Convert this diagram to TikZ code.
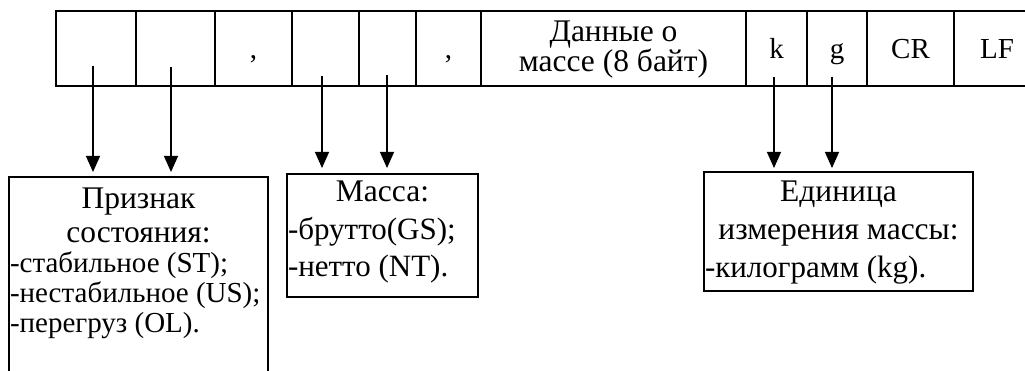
\documentclass[tikz,border=0pt]{standalone}
\usepackage{fontspec}
\setmainfont{Liberation Serif}
\usepackage{tikz}
\usetikzlibrary{positioning,arrows.meta}
\setlength\parindent{0pt}

\newcommand\titlefont[1]{\fontsize{31.5}{#1}\selectfont}
\newcommand\itemfont[2]{\fontsize{#1}{#2}\selectfont}
\newcommand\natspace{\spaceskip=0pt\xspaceskip=0pt\relax}

\tikzset{
  cell/.style={draw, line width=1.3pt, minimum height=75pt, inner sep=0pt, outer sep=0pt,
    font=\fontsize{29}{30}\selectfont, text height=20pt, text depth=0pt},
  datacell/.style={draw, line width=1.3pt, minimum height=75pt, inner sep=0pt, outer sep=0pt,
    font=\fontsize{31.5}{30}\selectfont, align=center, text height=54pt, text depth=7pt},
  infobox/.style={draw, line width=1.5pt, inner xsep=1pt, outer sep=0pt, anchor=north west, text height=21pt},
  ptr/.style={line width=1.2pt, -{Triangle[width=14pt,length=16pt]}}
}

\begin{document}
\begin{tikzpicture}[x=1pt,y=-1pt]
        \useasboundingbox (0,0) rectangle (1025,371);
        \clip (0,0) rectangle (1025,371);
        % message frame
        \node[cell, minimum width=80pt, anchor=north west] (sgnA) at (56,11) {};
        \node[cell, minimum width=79pt, right=0pt of sgnA] (sgnB) {};
        \node[cell, minimum width=77pt, right=0pt of sgnB] (commaA) {,};
        \node[cell, minimum width=67pt, right=0pt of commaA] (msA) {};
        \node[cell, minimum width=57pt, right=0pt of msA] (msB) {};
        \node[cell, minimum width=65pt, right=0pt of msB] (commaB) {,};
        \node[datacell, minimum width=265pt, right=0pt of commaB] (data) {\natspace Данные о\\\natspace массе (8 байт)};
        \node[cell, minimum width=61pt, right=0pt of data] (unitk) {k};
        \node[cell, minimum width=60pt, right=0pt of unitk] (unitg) {g};
        \node[cell, minimum width=87pt, right=0pt of unitg] (cr) {CR};
        \node[cell, minimum width=86pt, right=0pt of cr] (lf) {LF};
        % description boxes
        \node[infobox, text width=257pt, inner ysep=11pt, text depth=250pt] (state) at (9,177)
          {\natspace\titlefont{34}\centering Признак\\состояния:\par
           \itemfont{29}{30}\raggedright\mbox{-стабильное (ST);}\\\mbox{-нестабильное (US);}\\\mbox{-перегруз (OL).}\par};
        \node[infobox, text width=189pt, inner ysep=7pt, text depth=88pt] (mass) at (287,174)
          {\natspace\titlefont{38}\centering Масса:\par
           \itemfont{31}{37.5}\raggedright\mbox{-брутто(GS);}\\\mbox{-нетто (NT).}\par};
        \node[infobox, text width=267pt, inner ysep=9pt, text depth=80pt] (unit) at (704,172)
          {\natspace\titlefont{38}\centering Единица\\измерения массы:\par
           \itemfont{31}{37.5}\raggedright\mbox{-килограмм (kg).}\par};
        % pointers
        \coordinate (pA) at (93,66);
        \coordinate (pB) at (171,67);
        \coordinate (pC) at (322,76);
        \coordinate (pD) at (387,75);
        \coordinate (pE) at (774,77);
        \coordinate (pF) at (832,77);
        \draw[ptr, shorten >=5pt] (pA) -- (pA |- state.north);
        \draw[ptr, shorten >=5pt] (pB) -- (pB |- state.north);
        \draw[ptr, shorten >=6pt] (pC) -- (pC |- mass.north);
        \draw[ptr, shorten >=6pt] (pD) -- (pD |- mass.north);
        \draw[ptr, shorten >=4pt] (pE) -- (pE |- unit.north);
        \draw[ptr, shorten >=4pt] (pF) -- (pF |- unit.north);
    \end{tikzpicture}
\end{document}
